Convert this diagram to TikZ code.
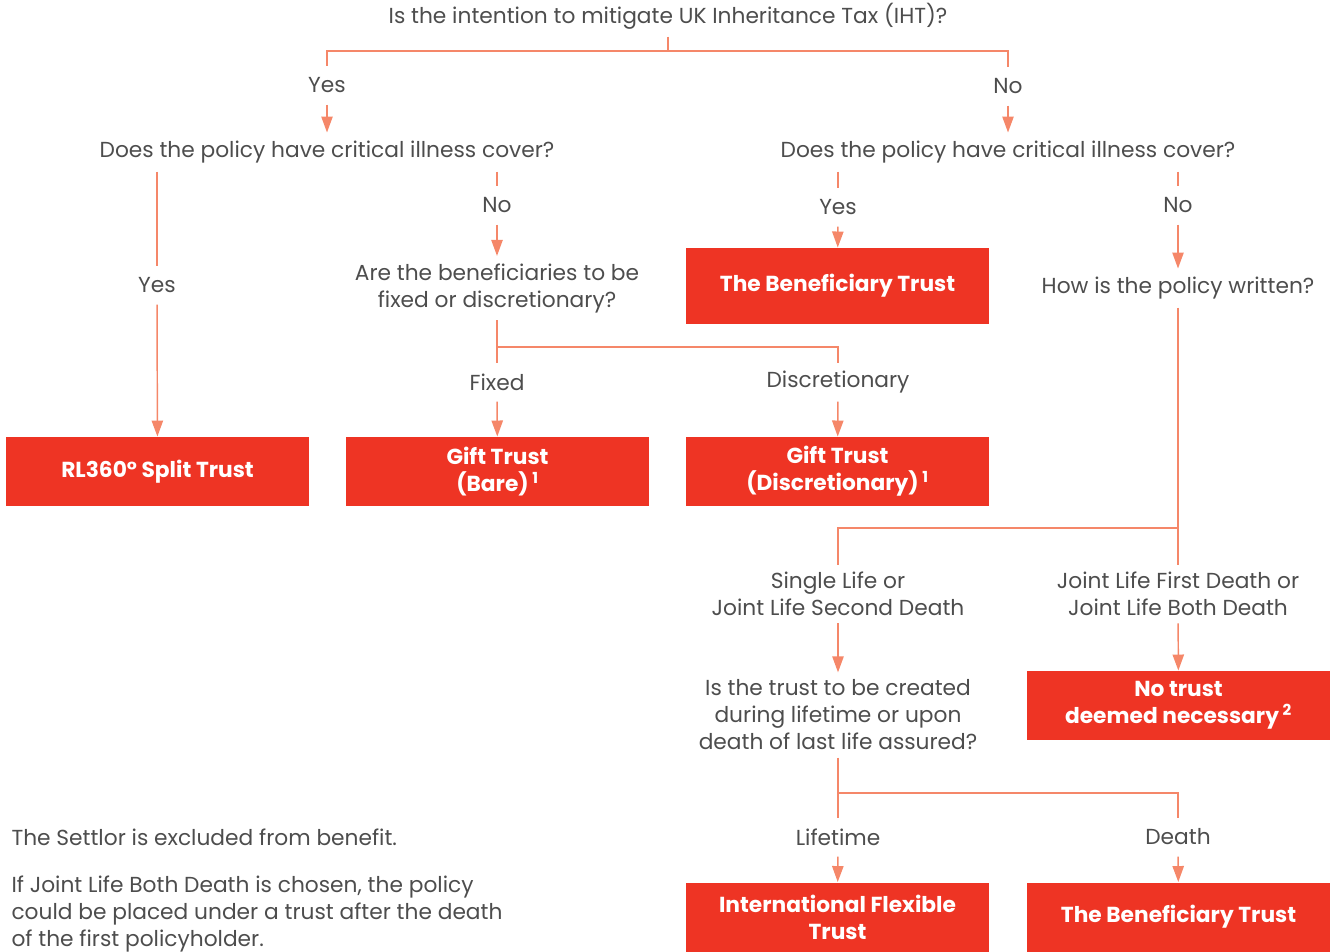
\documentclass[tikz,border=0pt]{standalone}
\usepackage{fontspec}
\setmainfont{Poppins}
\usetikzlibrary{arrows.meta}

\definecolor{boxC}{RGB}{238,52,36}
\definecolor{lineC}{RGB}{245,135,105}
\definecolor{txtC}{RGB}{77,77,77}

\tikzset{every picture/.style={line width=0.75pt}}
\tikzset{
  ask/.style={text=txtC, font=\fontsize{16.3}{20.25}\selectfont, align=center,
    inner xsep=1.5pt, inner ysep=5.25pt, minimum height=28.5pt},
  trust/.style={fill=boxC, text=white, font=\fontsize{16.3}{20.25}\selectfont\bfseries,
    align=center, inner sep=0pt, minimum width=227.25pt, minimum height=51.75pt},
  note/.style={text=txtC, font=\fontsize{16.3}{20.25}\selectfont, align=left,
    anchor=west, inner sep=0pt},
  link/.style={draw=lineC, line width=1.1pt},
  arrowto/.style={link, -{Triangle[length=12pt,width=8.5pt]}},
}

\begin{document}
\begin{tikzpicture}[x=0.75pt,y=0.75pt,yscale=-1,xscale=1]
\useasboundingbox (0,0) rectangle (1333,951);

% Text Node
\node [ask] (q0) at (668,16) {Is the intention to mitigate UK Inheritance Tax (IHT)?};
\node [ask] (yesA) at (327,85) {Yes};
\node [ask] (noA) at (1008,86) {No};
\node [ask] (q1) at (327,152) {Does the policy have critical illness cover?};
\node [ask] (q2) at (1008,152) {Does the policy have critical illness cover?};
% Text Node
\node [ask] (yesB) at (157,285) {Yes};
\node [ask] (noB) at (497,205) {No};
\node [ask] (q3) at (497,288) {Are the beneficiaries to be\\fixed or discretionary?};
\node [ask] (fixed) at (497,382) {Fixed};
\node [ask] (disc) at (838,382) {Discretionary};
\node [ask] (yesC) at (838,207) {Yes};
\node [ask] (noC) at (1178,205) {No};
\node [ask] (q4) at (1178,288) {How is the policy written?};
% Text Node
\node [ask] (single) at (838,594) {Single Life or\\Joint Life Second Death};
\node [ask] (joint) at (1178,594) {Joint Life First Death or\\Joint Life Both Death};
\node [ask] (q5) at (838,715) {Is the trust to be created\\during lifetime or upon\\death of last life assured?};
\node [ask] (life) at (838,837) {Lifetime};
\node [ask] (death) at (1178,837) {Death};

% Trust boxes
\node [trust, minimum height=57pt] (bt1) at (837.5,286) {The Beneficiary Trust};
\node [trust] (split) at (157.5,471.5) {RL360° Split Trust};
\node [trust] (bare) at (497.5,471.5) {Gift Trust\\(Bare)\,\textsuperscript{1}};
\node [trust] (giftd) at (837.5,471.5) {Gift Trust\\(Discretionary)\,\textsuperscript{1}};
\node [trust] (notrust) at (1178.5,705.5) {No trust\\deemed necessary\,\textsuperscript{2}};
\node [trust] (ift) at (837.5,917) {International Flexible\\Trust};
\node [trust] (bt2) at (1178.5,917) {The Beneficiary Trust};

% Notes
\node [note] (note1) at (11,837) {The Settlor is excluded from benefit.};
\node [note] (note2) at (11,914) {If Joint Life Both Death is chosen, the policy\\could be placed under a trust after the death\\of the first policyholder.};

% Junctions
\coordinate (j0) at (668,51);
\coordinate (j3) at (497,347);
\coordinate (j4) at (1178,528);
\coordinate (j5) at (838,793);

%Straight Lines
\draw [link] (q0) -- (j0);
\draw [link] (yesA) |- (j0) -| (noA);
\draw [arrowto] (yesA) -- (q1);
\draw [arrowto] (noA) -- (q2);
%Straight Lines
\draw [link] (q1.south -| yesB) -- (yesB);
\draw [arrowto] (yesB) -- (split);
\draw [link] (q1.south -| noB) -- (noB);
\draw [arrowto] (noB) -- (q3);
\draw [link] (q3) -- (fixed);
\draw [link] (j3) -| (disc);
\draw [arrowto] (fixed) -- (bare);
\draw [arrowto] (disc) -- (giftd);
%Straight Lines
\draw [link] (q2.south -| yesC) -- (yesC);
\draw [arrowto] (yesC) -- (bt1);
\draw [link] (q2.south -| noC) -- (noC);
\draw [arrowto] (noC) -- (q4);
\draw [link] (q4) -- (joint);
\draw [link] (j4) -| (single);
\draw [arrowto] (single) -- (q5);
\draw [arrowto] (joint) -- (notrust);
\draw [link] (q5) -- (life);
\draw [link] (j5) -| (death);
\draw [arrowto] (life) -- (ift);
\draw [arrowto] (death) -- (bt2);

\end{tikzpicture}
\end{document}
